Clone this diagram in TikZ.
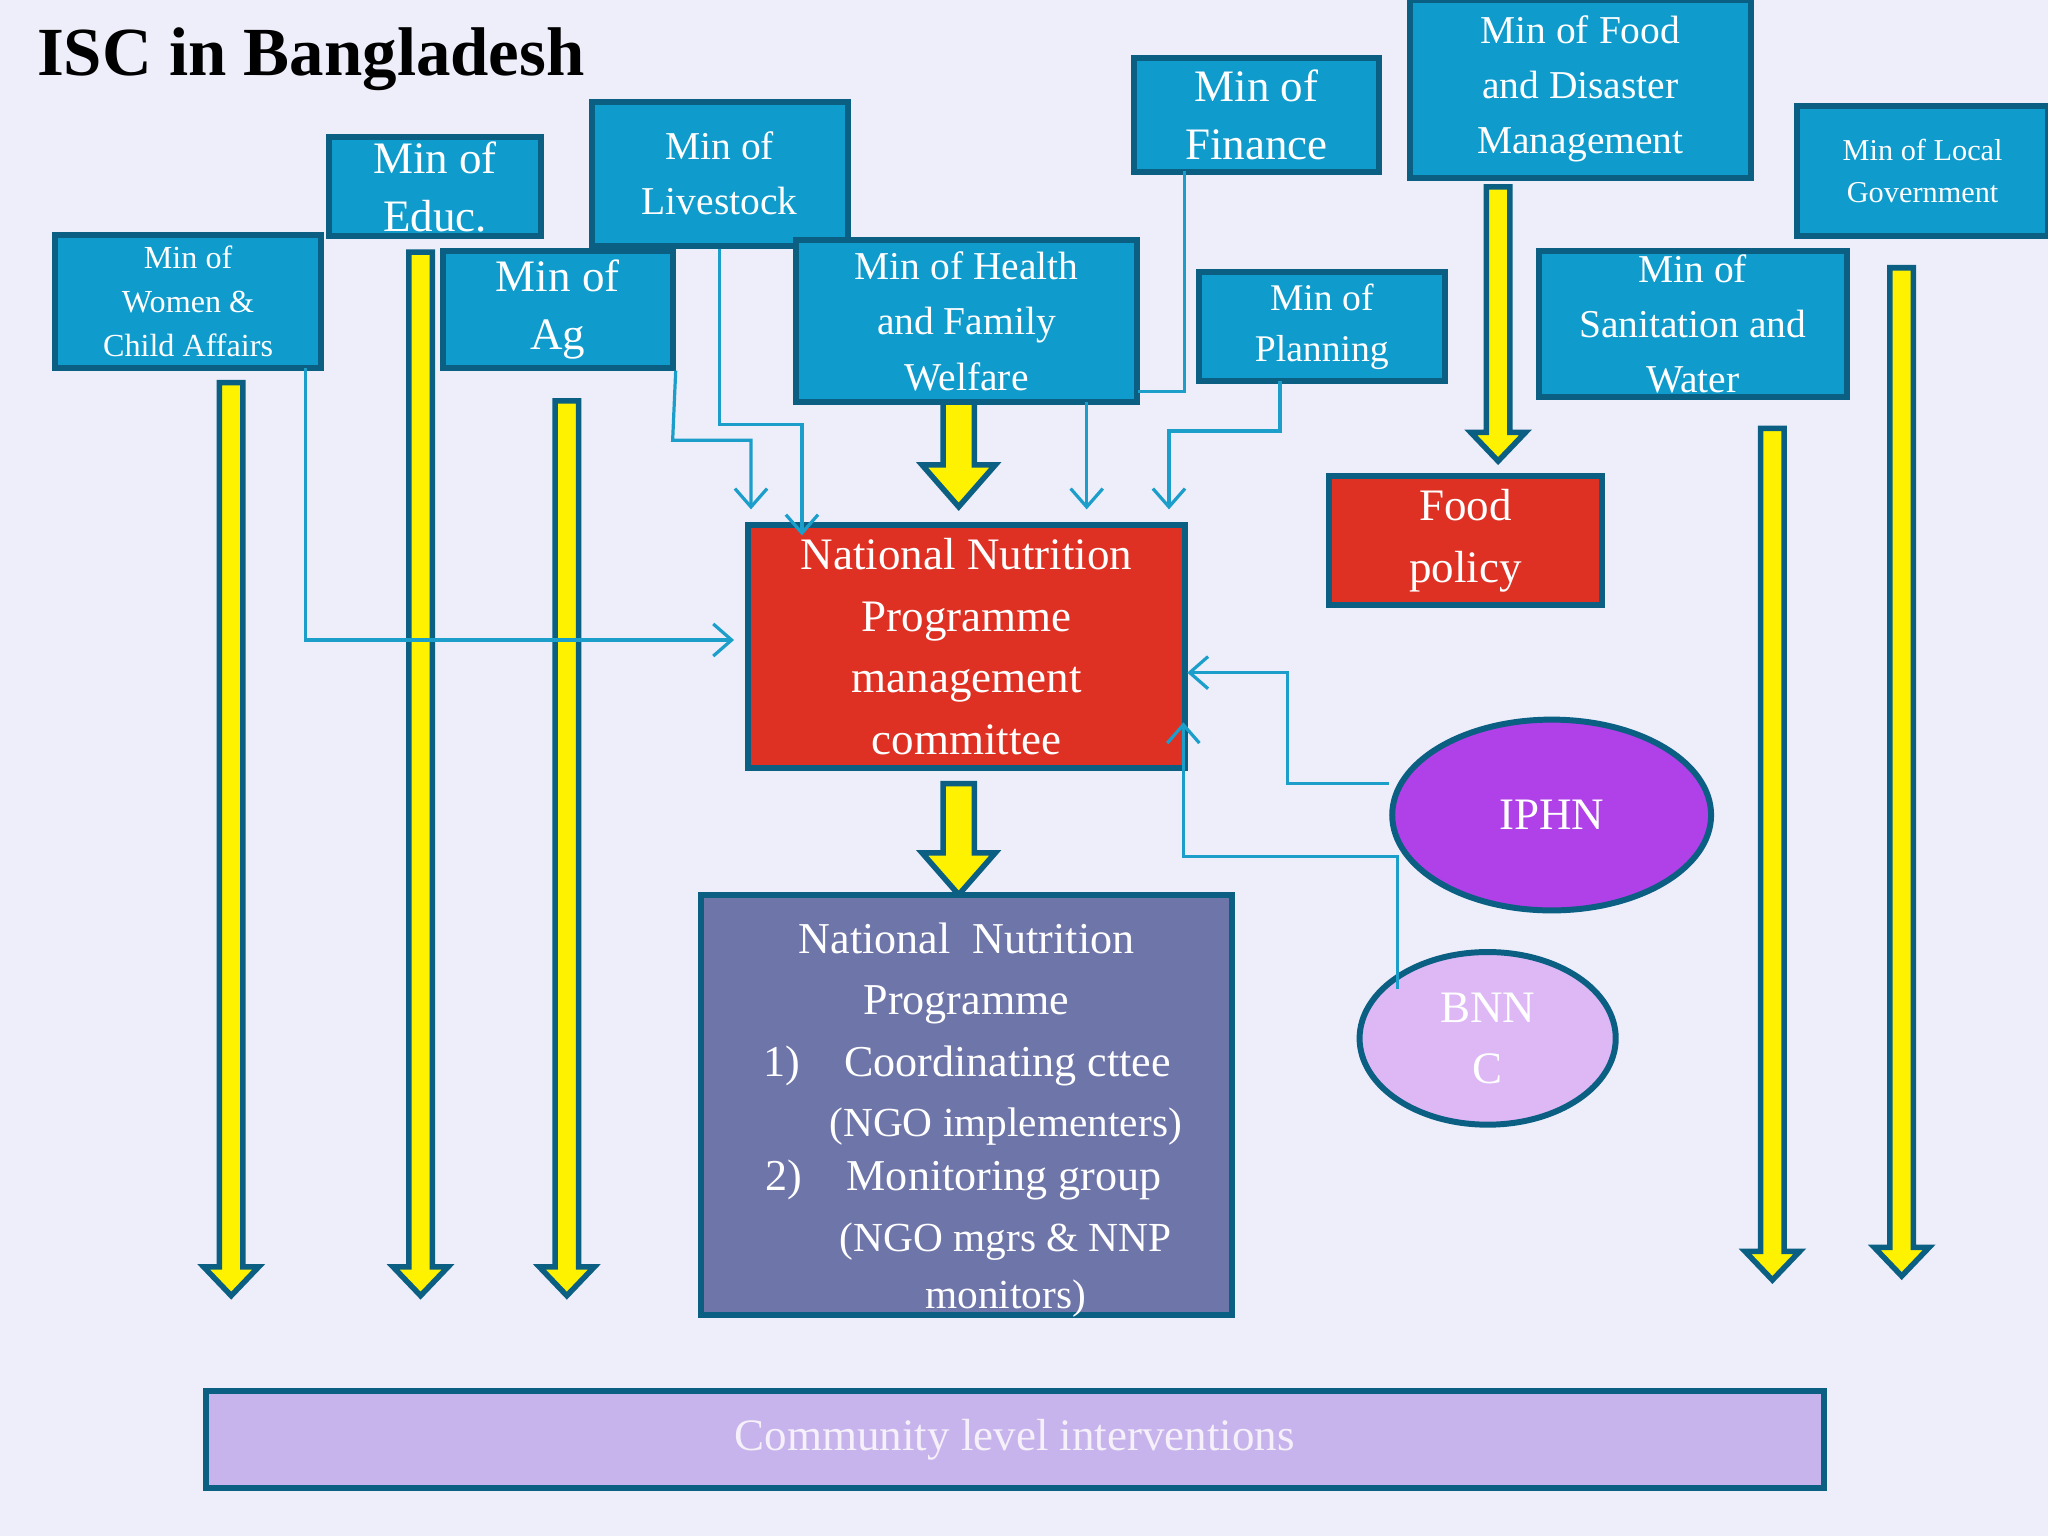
\documentclass[tikz,border=0pt]{standalone}
\usepackage{fontspec}
\setmainfont{Liberation Serif}
\usetikzlibrary{shapes.geometric,arrows.meta}
\definecolor{bg}{HTML}{EEEEFB}
\definecolor{mb}{HTML}{0F9BCB}
\definecolor{md}{HTML}{0A5F82}
\definecolor{rd}{HTML}{DE3124}
\definecolor{ln}{HTML}{1C9ECB}
\tikzset{
 box/.style={draw=md,line width=1.3pt,fill=mb,text=white,align=center,inner sep=0pt},
 red/.style={box,fill=rd},
 conn/.style={draw=ln,line width=0.7pt,-{Straight Barb[length=4pt,width=7pt]}},
 plain/.style={draw=ln,line width=0.7pt},
 yel/.style={fill=yellow,draw=md,line width=1.2pt,line join=miter}
}
\newcommand{\fs}[2]{\fontsize{#1}{#2}\selectfont}
% \yarr{x}{ytop}{ybottom}{halfshaft}{halfhead}{headlen}
\newcommand{\yarr}[6]{\path[yel] (#1-#4,#2) -- (#1+#4,#2) -- (#1+#4,#3-#6) -- (#1+#5,#3-#6) -- (#1,#3) -- (#1-#5,#3-#6) -- (#1-#4,#3-#6) -- cycle;}
\begin{document}
\begin{tikzpicture}[x=0.01cm,y=-0.01cm]
\useasboundingbox (0,0) rectangle (1568,1176);
\fill[bg] (0,0) rectangle (1568,1176);
\node[anchor=west,font=\bfseries\fs{15}{18}] (title) at (16,45) {ISC in Bangladesh};
% yellow arrows
\yarr{177}{293}{992}{9}{21}{22}
\yarr{322}{193}{992}{9}{21}{22}
\yarr{434}{307}{992}{9}{21}{22}
\yarr{1357}{328}{980}{9}{21}{22}
\yarr{1456}{205}{977}{9}{21}{22}
\yarr{1147}{143}{353}{9}{21}{22}
\yarr{734}{305}{388}{12}{28}{32}
\yarr{734}{600}{685}{12}{28}{32}
% boxes
\node[box,minimum width=2.04cm,minimum height=1.02cm,font=\fs{7}{9.6}] (wom) at (144,231) {Min of\\Women \&\\Child Affairs};
\node[box,minimum width=1.62cm,minimum height=0.76cm,font=\fs{9.8}{12.6}] (edu) at (333,143) {Min of\\Educ.};
\node[box,minimum width=1.76cm,minimum height=0.89cm,font=\fs{9.8}{12.6}] (ag) at (427,237) {Min of\\Ag};
\node[box,minimum width=1.96cm,minimum height=1.10cm,font=\fs{8.6}{12}] (liv) at (551,133) {Min of\\Livestock};
\node[box,minimum width=2.61cm,minimum height=1.24cm,font=\fs{8.6}{12}] (hea) at (740,246) {Min of Health\\and Family\\Welfare};
\node[box,minimum width=1.87cm,minimum height=0.87cm,font=\fs{9.8}{12.6}] (fin) at (962,88) {Min of\\Finance};
\node[box,minimum width=1.88cm,minimum height=0.84cm,font=\fs{8.2}{11.2}] (pla) at (1012,250) {Min of\\Planning};
\node[box,minimum width=2.61cm,minimum height=1.36cm,font=\fs{8.6}{12}] (fdm) at (1210,68) {Min of Food\\and Disaster\\Management};
\node[box,minimum width=1.92cm,minimum height=1.00cm,font=\fs{6.6}{9}] (loc) at (1472,131) {Min of Local\\Government};
\node[box,minimum width=2.36cm,minimum height=1.12cm,font=\fs{8.6}{12}] (san) at (1296,248) {Min of\\Sanitation and\\Water};
\node[red,minimum width=2.09cm,minimum height=0.99cm,font=\fs{9.8}{13.6}] (fp) at (1122,414) {Food\\policy};
\node[red,minimum width=3.34cm,minimum height=1.86cm,font=\fs{9.8}{13.4}] (nnpmc) at (740,495) {National Nutrition\\Programme\\management\\committee};
\node[box,fill={rgb,255:red,110;green,117;blue,168},minimum width=4.07cm,minimum height=3.21cm] (nnp) at (740,846) {};
\node[text=white,anchor=north,font=\fs{9.6}{13.4},align=center] (nnpt) at (740,694) {National\ \ Nutrition\\Programme};
\node[text=white,anchor=north west,font=\fs{9.6}{13},align=left] (nnp1) at (572,788) {1)\quad Coordinating cttee};
\node[text=white,anchor=north,font=\fs{9}{12.4},align=center] (nnp1b) at (770,836) {(NGO implementers)};
\node[text=white,anchor=north west,font=\fs{9.6}{13},align=left] (nnp2) at (574,876) {2)\quad Monitoring group};
\node[text=white,anchor=north,font=\fs{9}{12.4},align=center] (nnp2b) at (770,924) {(NGO mgrs \& NNP\\monitors)};
\node[ellipse,draw=md,line width=1.3pt,fill={rgb,255:red,176;green,64;blue,232},text=white,minimum width=2.44cm,minimum height=1.46cm,font=\fs{9.8}{12}] (iphn) at (1188,624) {IPHN};
\node[ellipse,draw=md,line width=1.3pt,fill={rgb,255:red,221;green,184;blue,245},text=white,minimum width=1.96cm,minimum height=1.0cm,align=center,font=\fs{9.8}{13.4}] (bnnc) at (1139,795) {BNN\\C};
\node[box,fill={rgb,255:red,200;green,180;blue,236},text={rgb,255:red,245;green,240;blue,250},minimum width=12.38cm,minimum height=0.74cm,font=\fs{9.8}{12}] (com) at (777,1102) {Community level interventions};
% connectors
\draw[conn] (234,282) -- (234,490) -- (562,490);
\draw[conn] (liv.south) -- (551,325) -- (614,325) -- (614,410);
\draw[conn] (ag.south east) ++(0,0) -- (515,337) -- (575,337) -- (575,390);
\draw[conn] (832,308) -- (832,390);
\draw[plain] (907,131) -- (907,300) -- (871,300);
\draw[conn] (980,292) -- (980,330) -- (895,330) -- (895,390);
\draw[conn] (iphn.west |- 0,600) -- (986,600) -- (986,515) -- (909,515);
\draw[conn] (1070,757) -- (1070,656) -- (906,656) -- (906,553);
\end{tikzpicture}
\end{document}
